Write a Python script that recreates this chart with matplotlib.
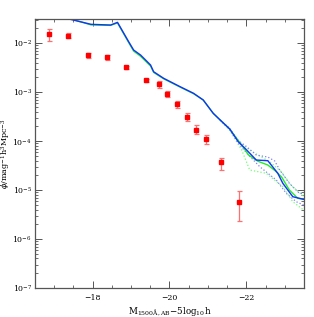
import numpy as np
import matplotlib
matplotlib.use('Agg')
import matplotlib.pyplot as plt
from matplotlib.ticker import MultipleLocator, LogLocator, NullFormatter

plt.rcParams['font.family'] = 'DejaVu Serif'
plt.rcParams['mathtext.fontset'] = 'dejavuserif'
plt.rcParams['font.size'] = 5.6

# observed points (magnitude, log10 phi, lower, upper)
obs_mag = [-16.88, -17.35, -17.88, -18.37, -18.87, -19.38, -19.72, -19.95,
           -20.21, -20.45, -20.70, -20.95, -21.33, -21.81]
obs_logphi = [-1.82, -1.85, -2.251, -2.292, -2.496, -2.755, -2.843, -3.035,
              -3.251, -3.504, -3.765, -3.965, -4.435, -5.239]
obs_loglo = [-1.96, -1.904, -2.306, -2.347, -2.53, -2.79, -2.914, -3.10,
             -3.322, -3.585, -3.857, -4.057, -4.598, -5.633]
obs_loghi = [-1.72, -1.80, -2.198, -2.245, -2.466, -2.725, -2.772, -2.97,
             -3.18, -3.423, -3.673, -3.873, -4.341, -5.021]

# model curves
blue_mag = [-16.92, -17.39, -17.96, -18.47, -18.65, -18.94, -19.07, -19.25, -19.51,
            -19.59, -19.85, -20.28, -20.63, -20.88, -21.14, -21.32, -21.57, -21.79,
            -22.01, -22.26, -22.56, -22.82, -22.95, -23.21, -23.49]
blue_logphi = [-1.449, -1.51, -1.618, -1.633, -1.578, -1.973, -2.143, -2.245, -2.449,
               -2.586, -2.72, -2.892, -3.027, -3.163, -3.435, -3.571, -3.755, -4.014,
               -4.184, -4.388, -4.402, -4.659, -4.863, -5.137, -5.19]
green_mag = [-16.92, -17.45, -17.96, -18.47, -18.65, -18.94, -19.07, -19.25, -19.51,
             -19.59, -19.85, -20.28, -20.63, -20.88, -21.14, -21.32, -21.57, -21.88,
             -22.06, -22.30, -22.56, -22.76, -22.92, -23.12, -23.34, -23.49]
green_logphi = [-1.47, -1.51, -1.63, -1.64, -1.59, -1.99, -2.165, -2.27, -2.47,
                -2.60, -2.73, -2.90, -3.035, -3.163, -3.435, -3.571, -3.76, -4.082,
                -4.286, -4.412, -4.49, -4.612, -4.735, -5.0, -5.169, -5.19]

blue_hi_mag = [-21.32, -21.57, -21.79, -22.01, -22.26, -22.56, -22.74, -22.87, -23.12, -23.38, -23.49]
blue_hi_log = [-3.571, -3.745, -3.99, -4.116, -4.286, -4.327, -4.408, -4.592, -4.863, -5.067, -5.08]
blue_lo_mag = [-21.32, -21.57, -21.79, -22.01, -22.35, -22.78, -23.04, -23.30, -23.49]
blue_lo_log = [-3.571, -3.77, -4.04, -4.245, -4.524, -4.796, -5.067, -5.239, -5.306]
green_hi_mag = [-21.32, -21.57, -21.79, -22.01, -22.26, -22.61, -22.91, -23.18, -23.49]
green_hi_log = [-3.571, -3.75, -4.0, -4.143, -4.265, -4.422, -4.627, -4.918, -5.122]
green_lo_mag = [-21.32, -21.57, -21.88, -22.09, -22.52, -22.95, -23.21, -23.49]
green_lo_log = [-3.571, -3.78, -4.184, -4.592, -4.659, -4.933, -5.239, -5.408]

fig = plt.figure(figsize=(3.14, 3.17), dpi=100)
ax = fig.add_axes([0.111, 0.0915, 0.857, 0.8485])

p = lambda v: 10**np.array(v)

ax.plot(green_hi_mag, p(green_hi_log), color='#70ff70', ls=':', lw=0.9)
ax.plot(green_lo_mag, p(green_lo_log), color='#70ff70', ls=':', lw=0.9)
ax.plot(blue_hi_mag, p(blue_hi_log), color='#8080ff', ls=':', lw=0.9)
ax.plot(blue_lo_mag, p(blue_lo_log), color='#8080ff', ls=':', lw=0.9)
ax.plot(green_mag, p(green_logphi), color='#22ee22', lw=1.0)
ax.plot(blue_mag, p(blue_logphi), color='#1530ff', lw=1.0)

phi = p(obs_logphi)
yerr = [phi - p(obs_loglo), p(obs_loghi) - phi]
ax.errorbar(obs_mag, phi, yerr=yerr, fmt='none', ecolor='#ff7070',
            elinewidth=0.9, capsize=1.8, capthick=0.9)
ax.plot(obs_mag, phi, 's', color='#ff0000', ms=2.6, mec='#ff0000')

ax.set_yscale('log')
ax.set_xlim(-16.5, -23.5)
ax.set_ylim(1e-7, 10**-1.51)

ax.xaxis.set_major_locator(MultipleLocator(2))
ax.xaxis.set_minor_locator(MultipleLocator(0.5))
ax.yaxis.set_major_locator(LogLocator(base=10, numticks=20))
ax.yaxis.set_minor_locator(LogLocator(base=10, subs=np.arange(2, 10), numticks=20))
ax.yaxis.set_minor_formatter(NullFormatter())
ax.tick_params(which='both', direction='in', top=True, right=True, color='#555555')
ax.tick_params(axis='y', pad=2)
ax.tick_params(axis='x', pad=4)
ax.tick_params(which='major', length=5, width=0.7)
ax.tick_params(which='minor', length=2.5, width=0.6)
for s in ax.spines.values():
    s.set_color('#555555')
    s.set_linewidth(0.9)

ax.set_xlabel(r'M$_{\rm 1500\AA,AB}$$-$5log$_{10}$h', fontsize=6.3)
ax.set_ylabel(r'$\phi$/mag$^{-1}$h$^{3}$Mpc$^{-3}$', fontsize=5.8)
ax.xaxis.set_label_coords(0.5, -0.065)
ax.yaxis.set_label_coords(-0.085, 0.5)

fig.savefig('out.png', dpi=100)
